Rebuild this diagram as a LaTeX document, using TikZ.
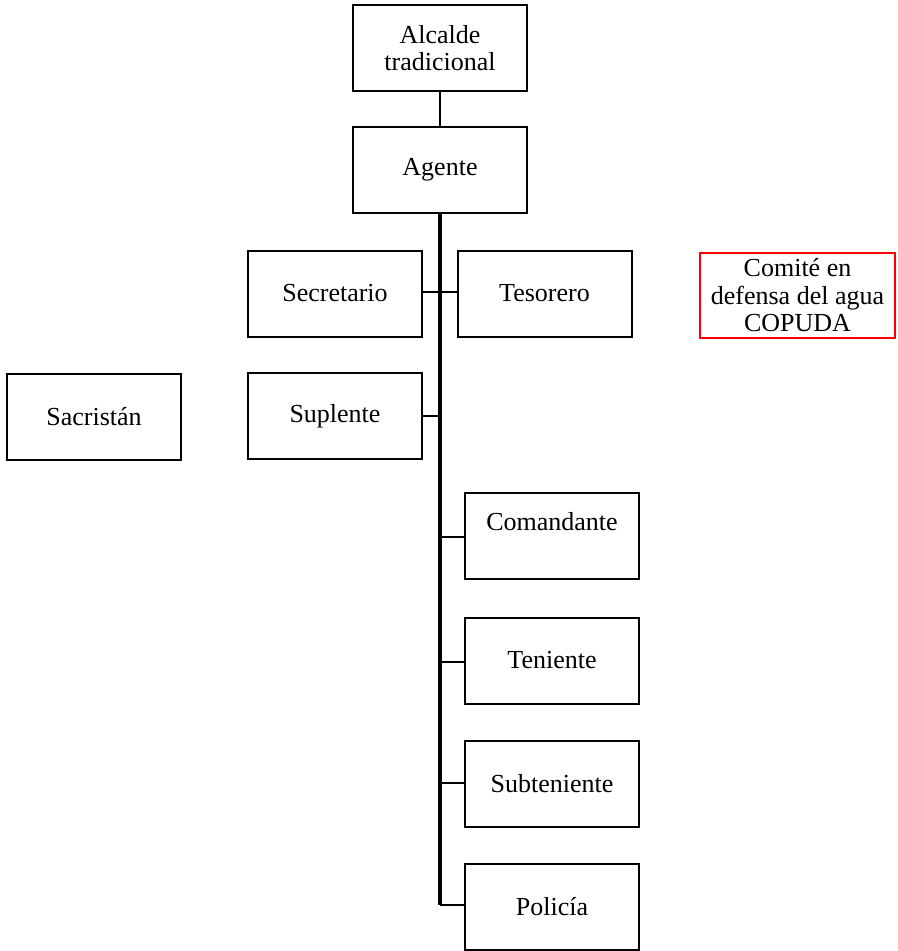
\documentclass[tikz,border=0pt]{standalone}
\usepackage{fontspec}
\setmainfont{Liberation Serif}
\begin{document}
\begin{tikzpicture}[x=0.75pt,y=-0.75pt,
  box/.style={draw=black, line width=1.5pt, fill=white, minimum width=130.5pt, minimum height=64.5pt, inner sep=2pt, align=center, font=\fontsize{19.5}{20.6}\selectfont},
  redbox/.style={box, draw=red, line width=1.3pt, minimum width=146pt, minimum height=63.5pt},
  conn/.style={line width=1.5pt},
  trunk/.style={line width=2.4pt}]
\useasboundingbox (0,0) rectangle (898,951);
\node[box] (alc) at (440,48) {Alcalde\\tradicional};
\node[box] (age) at (440,170) {Agente};
\node[box] (sec) at (335,293.5) {Secretario};
\node[box] (tes) at (544.5,293.5) {Tesorero};
\node[redbox] (cop) at (797.5,295.5) {Comité en\\defensa del agua\\COPUDA};
\node[box] (sac) at (94,416.5) {Sacristán};
\node[box] (sup) at (335,416) {Suplente};
\node[box, inner sep=0pt, text height=27.75pt, text depth=36.75pt] (coman) at (552,536) {Comandante};
\node[box] (ten) at (552,660.5) {Teniente};
\node[box] (subt) at (552,784) {Subteniente};
\node[box] (pol) at (552,906.5) {Policía};
\coordinate (tend) at (440,905);
\draw[conn] (alc.south) -- (age.north);
\draw[trunk] (age.south) -- (tend);
\draw[conn] (sec.east |- 0,292) -- (tes.west |- 0,292);
\draw[conn] (sup.east) -- (sup.east -| tend);
\draw[conn] (440,537) -- (coman.west |- 0,537);
\draw[conn] (440,662) -- (ten.west |- 0,662);
\draw[conn] (440,783) -- (subt.west |- 0,783);
\draw[conn] (tend) -- (pol.west |- tend);
\end{tikzpicture}
\end{document}
